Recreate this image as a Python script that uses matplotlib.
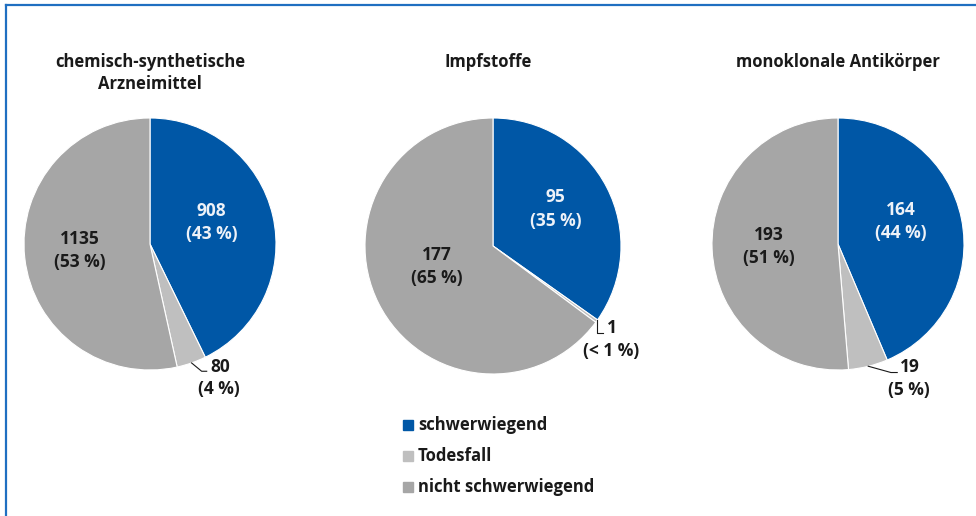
import matplotlib
matplotlib.use("Agg")
import matplotlib.pyplot as plt
from matplotlib.lines import Line2D
from matplotlib.patches import Rectangle

plt.rcParams['font.family'] = ['Open Sans', 'DejaVu Sans']

W, H = 976, 516

titles = ['chemisch-synthetische\nArzneimittel', 'Impfstoffe', 'monoklonale Antikörper']
categories = ['schwerwiegend', 'Todesfall', 'nicht schwerwiegend']
values_chem = [908, 80, 1135]
values_impf = [95, 1, 177]
values_mak = [164, 19, 193]
pct_chem = ['43 %', '4 %', '53 %']
pct_impf = ['35 %', '< 1 %', '65 %']
pct_mak = ['44 %', '5 %', '51 %']

colors = ['#0057a6', '#bfbfbf', '#a6a6a6']
txt = '#1a1a1a'

fig = plt.figure(figsize=(W / 100, H / 100), dpi=100)

# frame lines (top + left only)
fig.add_artist(Line2D([6 / W, 1], [1 - 5 / H, 1 - 5 / H], color='#1f6fc1', lw=1.6))
fig.add_artist(Line2D([6 / W, 6 / W], [0, 1 - 5 / H], color='#1f6fc1', lw=1.6))

def px(x, y):
    return x / W, 1 - y / H

# pie centres/radius in pixels, label spots in data units of each pie
pies = [
    dict(cx=150, cy=244, r=126, vals=values_chem, pct=pct_chem, title=titles[0], tx=150, ty=73,
         big=[(0.49, 0.17), (-0.56, -0.05)], small=(0.476, -0.975), small_pct=(0.55, -1.15),
         leader=[(0.33, -0.944), (0.41, -1.01), (0.45, -1.01)]),
    dict(cx=493, cy=246, r=128, vals=values_impf, pct=pct_impf, title=titles[1], tx=488, ty=62,
         big=[(0.49, 0.29), (-0.44, -0.16)], small=(0.89, -0.64), small_pct=(0.92, -0.82),
         leader=[(0.81, -0.58), (0.81, -0.68), (0.86, -0.68)]),
    dict(cx=838, cy=244, r=126, vals=values_mak, pct=pct_mak, title=titles[2], tx=838, ty=62,
         big=[(0.5, 0.18), (-0.55, -0.02)], small=(0.49, -0.975), small_pct=(0.56, -1.16),
         leader=[(0.24, -0.97), (0.42, -1.02), (0.47, -1.02)]),
]

for p in pies:
    cx, cy, r = p['cx'], p['cy'], p['r']
    ax = fig.add_axes([(cx - r) / W, 1 - (cy + r) / H, 2 * r / W, 2 * r / H])
    ax.pie(p['vals'], colors=colors, startangle=90, counterclock=False, radius=1,
           wedgeprops=dict(edgecolor='white', linewidth=0.8))
    ax.set_xlim(-1, 1)
    ax.set_ylim(-1, 1)
    ax.set_aspect('equal')
    ax.axis('off')

    v = p['vals']
    (bx, by), (gx, gy) = p['big']
    ax.text(bx, by, f"{v[0]}\n({p['pct'][0]})", color='#eef2f8', fontsize=12.5,
            fontweight='bold', ha='center', va='center', linespacing=1.4)
    ax.text(gx, gy, f"{v[2]}\n({p['pct'][2]})", color=txt, fontsize=12.5,
            fontweight='bold', ha='center', va='center', linespacing=1.4)
    lx = [q[0] for q in p['leader']]
    ly = [q[1] for q in p['leader']]
    ax.plot(lx, ly, color=txt, lw=0.8, clip_on=False)
    sx, sy = p['small']
    ax.text(sx, sy, f"{v[1]}", color=txt, fontsize=12.5, fontweight='bold',
            ha='left', va='center', clip_on=False)
    qx, qy = p['small_pct']
    ax.text(qx, qy, f"({p['pct'][1]})", color=txt, fontsize=12.5,
            fontweight='bold', ha='center', va='center', clip_on=False)

    tx, ty = px(p['tx'], p['ty'])
    fig.text(tx, ty, p['title'], ha='center', va='center', fontsize=12,
             fontweight='bold', color=txt, linespacing=1.35)

# legend
for i, (cat, col) in enumerate(zip(categories, colors)):
    y = 425 + 31 * i
    x0, y0 = px(403, y + 5)
    fig.add_artist(Rectangle((x0, y0), 10 / W, 10 / H, color=col, transform=fig.transFigure))
    tx, ty = px(418, y)
    fig.text(tx, ty, cat, ha='left', va='center', fontsize=12, fontweight='bold',
             color=txt)

fig.savefig('out.png', dpi=100)
